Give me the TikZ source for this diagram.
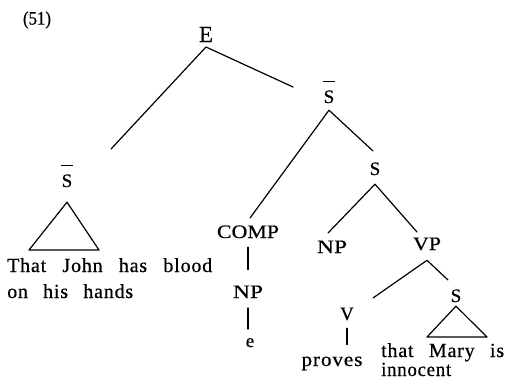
\documentclass[tikz,border=0pt]{standalone}
\usepackage{fontspec}
\setmainfont{Liberation Serif}[FakeBold=0.6]
\usepackage{graphicx}

% stretch a piece of text horizontally to a given width
\newcommand\fitw[2]{\resizebox{#1}{\height}{#2}}
% category label with a bar over it (S-bar)
\newcommand\barred[1]{\setbox0=\hbox{#1}\leavevmode
  \rlap{\hbox to \wd0{\hss\raisebox{\dimexpr\ht0+8.5pt\relax}{\rule{\dimexpr\wd0+2pt\relax}{1pt}}\hss}}\box0}

\begin{document}
\begin{tikzpicture}[x=1pt,y=-1pt,
  lab/.style={anchor=base, inner sep=0pt, font=\fontsize{19}{22}\selectfont},
  txt/.style={anchor=base west, inner sep=0pt,
    font=\fontsize{20}{22}\selectfont\addfontfeature{LetterSpace=4}},
  branch/.style={line width=1.2pt, line cap=round, line join=round}]
\useasboundingbox (0,0) rectangle (507,384);

% example number
\node[inner sep=0pt] (num) at (37,20) {\fitw{28pt}{\fontsize{19}{20}\selectfont(51)}};

% category labels
\node[lab, font=\fontsize{23}{24}\selectfont, outer sep=5pt] (E) at (206,42) {E};
\node[lab, outer sep=7pt]  (Sbr)  at (329,103) {\barred{S}};
\node[lab, outer sep=9pt]  (S)    at (375,175) {S};
\node[lab, outer sep=15pt] (sbl)  at (67,187)  {\barred{S}};
\node[lab, outer sep=9pt]  (comp) at (248,238) {\fitw{62pt}{COMP}};
\node[lab, outer sep=10pt] (np1)  at (332,253) {\fitw{30pt}{NP}};
\node[lab, outer sep=10pt] (vp)   at (427,250) {\fitw{28pt}{VP}};
\node[lab, outer sep=10pt] (np2)  at (248,298) {\fitw{30pt}{NP}};
\node[lab, outer sep=9pt]  (e)    at (250,347) {e};
\node[lab, outer sep=8pt]  (v)    at (347,320) {V};
\node[lab, outer sep=4pt]  (svp)  at (456,302) {S};

% terminal strings
\node[txt] (l1) at (7,272) {\makebox[205pt][s]{That John has blood}};
\node[txt] (l2) at (7,298) {\makebox[126pt][s]{on his hands}};
\node[txt, anchor=base, outer sep=12pt] (prv) at (332,366) {\fitw{61pt}{proves}};
\node[txt] (tm)  at (381,357) {\makebox[123pt][s]{that Mary is}};
\node[txt] (inn) at (381,376) {\fitw{70pt}{innocent}};

% branch tips
\coordinate (eL) at (111,149);
\coordinate (eR) at (293,87);
\coordinate (cL) at (250,218);
\coordinate (cR) at (373,151);
\coordinate (sL) at (328,233);
\coordinate (sR) at (417,232);
\coordinate (vL) at (373,298);
\coordinate (vR) at (448,280);
\coordinate (t1a) at (29,250);
\coordinate (t1b) at (99,250);
\coordinate (t2a) at (427,337);
\coordinate (t2b) at (487,337);

% branches
\draw[branch] (eL) -- (E.south) -- (eR);
\draw[branch] (cL) -- (Sbr.south) -- (cR);
\draw[branch] (sL) -- (S.south) -- (sR);
\draw[branch] (vL) -- (vp.south) -- (vR);
\draw[branch, shorten >=6pt] (comp.south) -- (comp.south |- np2.north);
\draw[branch] (np2.south) -- (np2.south |- e.north);
\draw[branch] (v.south) -- (v.south |- prv.north);

% triangles over unanalysed clauses
\draw[branch] (sbl.south) -- (t1a) -- (t1b) -- cycle;
\draw[branch] (svp.south) -- (t2a) -- (t2b) -- cycle;
\end{tikzpicture}
\end{document}
